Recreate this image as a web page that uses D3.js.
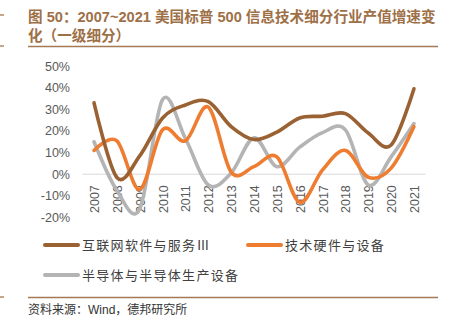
<!DOCTYPE html>
<html>
<head>
<meta charset="utf-8">
<script src="https://cdn.jsdelivr.net/npm/d3@7/dist/d3.min.js"></script>
<style>
  html, body { margin: 0; padding: 0; background: #fff; }
  svg { display: block; }
  text { font-family: "Liberation Sans", Arial, "Noto Sans CJK SC", sans-serif; }
</style>
</head>
<body>
<svg id="chart" width="459" height="321"></svg>
<script>
// Years on the category axis
const years = ["2007","2008","2009","2010","2011","2012","2013","2014","2015","2016","2017","2018","2019","2020","2021"];

// Annual output growth (%) for each S&P 500 IT sub-industry
const internetSoftware = [33, -1.5, 8.5, 26, 32, 33.5, 22, 16, 19.5, 26, 26.8, 28, 19, 13.5, 39.5];
const techHardware     = [11, 15.4, -7, 20.5, 15.4, 31, 1, 3.5, 8, -13, 2, 11, -1.4, 2.8, 22];
const semiconductors   = [15, -7.5, -16, 34.5, 16.5, -5, 0.5, 16.8, 3.5, 12.5, 19.2, 20.5, -5, 8, 23.4];

const seriesNames = ["互联网软件与服务Ⅲ", "技术硬件与设备", "半导体与半导体生产设备"];
const yTicks = [-20, -10, 0, 10, 20, 30, 40, 50];

const colors = ["#9A6233", "#EE7D31", "#B4B4B4"];
const titleColor = "#9E7047";

const svg = d3.select("#chart");

// Title block
const title = svg.append("g").attr("fill", titleColor).attr("font-weight", "bold").attr("font-size", 14.6);
title.append("text").attr("x", 28).attr("y", 22)
  .text("图 50：2007~2021 美国标普 500 信息技术细分行业产值增速变");
title.append("text").attr("x", 28).attr("y", 40.5)
  .text("化（一级细分）");
svg.append("line").attr("x1", 28).attr("x2", 438).attr("y1", 46.5).attr("y2", 46.5)
  .attr("stroke", "#A47A55").attr("stroke-width", 1.3);

// Page margin marks on the left edge
[15, 46, 297].forEach(yy => {
  svg.append("line").attr("x1", 0).attr("x2", 4).attr("y1", yy).attr("y2", yy)
    .attr("stroke", "#B08A66").attr("stroke-width", 1.5);
});

// Scales
const x = d3.scalePoint().domain(years).range([82.6, 425.4]).padding(0.5);
const y = d3.scaleLinear().domain([-20, 50]).range([217.5, 66]);

// Y axis labels
const yAxis = svg.append("g").attr("transform", "translate(70,0)")
  .call(d3.axisLeft(y).tickValues(yTicks).tickSize(0).tickPadding(0).tickFormat(d => d + "%"));
yAxis.select(".domain").remove();
yAxis.selectAll("text").attr("fill", "#595959").attr("font-size", 12.5)
  .attr("font-family", "'Liberation Sans', Arial, sans-serif");

// Zero baseline
svg.append("line").attr("x1", 82.6).attr("x2", 425.4).attr("y1", y(0)).attr("y2", y(0))
  .attr("stroke", "#D9D9D9").attr("stroke-width", 1);

// X axis labels (rotated)
const xAxis = svg.append("g").attr("transform", `translate(0,${y(0)})`)
  .call(d3.axisBottom(x).tickSize(0).tickPadding(0));
xAxis.select(".domain").remove();
xAxis.selectAll("text")
  .attr("fill", "#595959").attr("font-size", 12.5)
  .attr("font-family", "'Liberation Sans', Arial, sans-serif")
  .attr("text-anchor", "end")
  .attr("dy", null)
  .attr("transform", "translate(4.5,11) rotate(-90)");

// Smoothed lines
const allSeries = [internetSoftware, techHardware, semiconductors];
const line = d3.line()
  .x((d, i) => x(years[i]))
  .y(d => y(d))
  .curve(d3.curveCardinal.tension(0));

// Draw gray first, then orange, then brown on top
[2, 1, 0].forEach(k => {
  svg.append("path")
    .datum(allSeries[k])
    .attr("d", line)
    .attr("fill", "none")
    .attr("stroke", colors[k])
    .attr("stroke-width", 3.6)
    .attr("stroke-linecap", "round")
    .attr("stroke-linejoin", "round");
});

// Legend
const legendPos = [[45, 245], [248, 245], [45, 275]];
const legend = svg.append("g");
seriesNames.forEach((name, k) => {
  const [lx, ly] = legendPos[k];
  legend.append("line").attr("x1", lx).attr("x2", lx + 33).attr("y1", ly).attr("y2", ly)
    .attr("stroke", colors[k]).attr("stroke-width", 4).attr("stroke-linecap", "round");
  legend.append("text").attr("x", lx + 37).attr("y", ly + 5)
    .attr("font-family", "'Noto Sans CJK SC', sans-serif")
    .attr("font-size", 13).attr("letter-spacing", 1.3).attr("fill", "#404040")
    .text(name);
});

// Footer rule and source note
svg.append("line").attr("x1", 28).attr("x2", 438).attr("y1", 297.5).attr("y2", 297.5)
  .attr("stroke", "#A47A55").attr("stroke-width", 1.3);
svg.append("text").attr("x", 28).attr("y", 314)
  .attr("font-size", 12).attr("fill", "#333")
  .text("资料来源：Wind，德邦研究所");
</script>
</body>
</html>
